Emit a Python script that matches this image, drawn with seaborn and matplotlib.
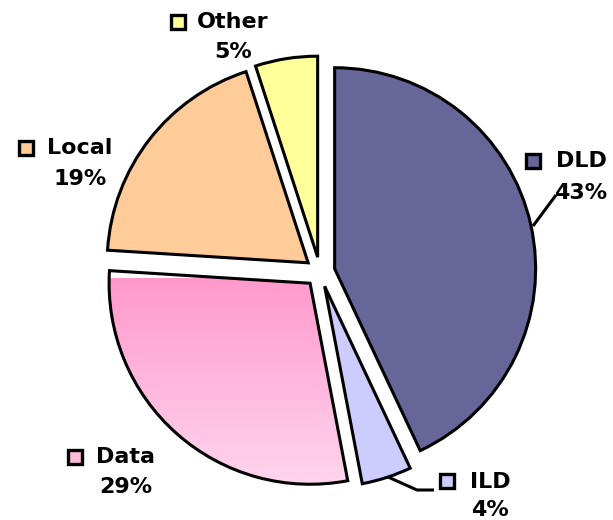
import numpy as np
import matplotlib
matplotlib.use("Agg")
import matplotlib.pyplot as plt
import seaborn as sns
from matplotlib.colors import LinearSegmentedColormap

# ---- data ----
categories = ["DLD", "ILD", "Data", "Local", "Other"]
shares = [43, 4, 29, 19, 5]
colors = ["#666699", "#ccccff", "#ff99cc", "#ffcc99", "#ffff99"]

# ---- layout (pixel positions in image coords, y down) ----
W, H = 613, 520
CX, CY, R = 320, 272, 201
EXPLODE_PX = 15
label_layout = {
    # name: (square_x, square_y, text_cx, name_y, pct_y)
    "DLD": (533, 161, 581, 161, 193),
    "ILD": (447, 481, 490, 482, 510),
    "Data": (75, 457, 126, 457, 487),
    "Local": (26, 148, 80, 148, 179),
    "Other": (178, 22, 233, 22, 52),
}
leaders = {
    "DLD": [(533, 226), (556, 195)],
    "ILD": [(388, 477), (417, 490), (434, 490)],
}
square_fill = {"Data": "#ffbbdd"}


def Y(y):
    return H - y


sns.set_theme(style="white")
plt.rcParams["font.family"] = ["DejaVu Sans"]

fig = plt.figure(figsize=(W / 100, H / 100), dpi=100)
ax = fig.add_axes([0, 0, 1, 1])

wedges, _ = ax.pie(
    shares,
    colors=colors,
    explode=[EXPLODE_PX] * len(shares),
    startangle=90,
    counterclock=False,
    radius=R,
    center=(CX, Y(CY)),
    wedgeprops=dict(edgecolor="black", linewidth=2.2),
    frame=False,
)

# gradient fill for the Data wedge
dw = wedges[categories.index("Data")]
dw.set_facecolor("none")
cmap = LinearSegmentedColormap.from_list("pinkgrad", ["#ffd8ef", "#ff99cc"])
grad = np.linspace(0, 1, 256).reshape(-1, 1)
im = ax.imshow(grad, cmap=cmap, extent=[60, 380, Y(495), Y(278)],
               origin="lower", aspect="auto", zorder=dw.get_zorder() - 0.01)
im.set_clip_path(dw)

ax.set_xlim(0, W)
ax.set_ylim(0, H)
ax.set_aspect("equal")
ax.axis("off")

# leader lines
for name, pts in leaders.items():
    xs = [p[0] for p in pts]
    ys = [Y(p[1]) for p in pts]
    ax.plot(xs, ys, color="black", lw=2.2, zorder=5, solid_capstyle="butt")

# labels
for name, val, col in zip(categories, shares, colors):
    sx, sy, tx, ny, py = label_layout[name]
    ax.plot(sx, Y(sy), marker="s", ms=9.5, mfc=square_fill.get(name, col),
            mec="black", mew=2.4, zorder=6)
    ax.text(tx, Y(ny), name, ha="center", va="center", fontsize=16,
            fontweight="bold", color="black", zorder=7)
    ax.text(tx, Y(py), f"{val}%", ha="center", va="center", fontsize=16,
            fontweight="bold", color="black", zorder=7)

fig.savefig("out.png", dpi=100, facecolor="white")
